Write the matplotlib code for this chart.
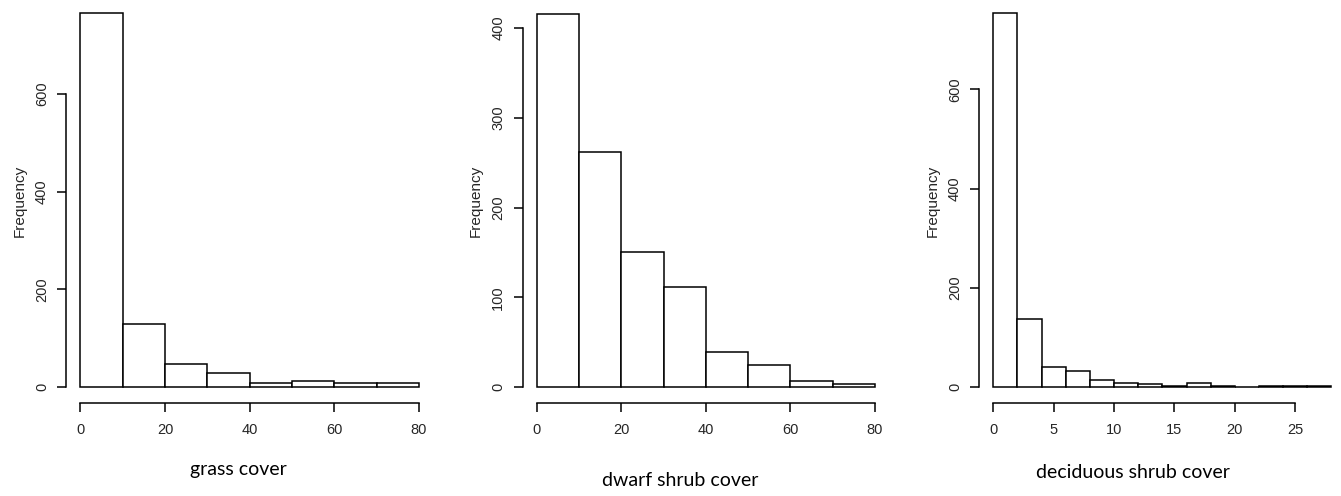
import numpy as np
import matplotlib
matplotlib.use("Agg")
import matplotlib.pyplot as plt

# bin edges and counts
grass_edges = [0, 10, 20, 30, 40, 50, 60, 70, 80]
grass_counts = [765, 130, 47, 29, 8, 12, 8, 8]

dwarf_edges = [0, 10, 20, 30, 40, 50, 60, 70, 80]
dwarf_counts = [416, 262, 150, 111, 39, 24, 7, 3]

decid_edges = [0, 2, 4, 6, 8, 10, 12, 14, 16, 18, 20, 22, 24, 26, 28]
decid_counts = [753, 137, 41, 32, 14, 9, 6, 2, 9, 2, 0, 2, 1, 1]

grass_xticks = [0, 20, 40, 60, 80]
dwarf_xticks = [0, 20, 40, 60, 80]
decid_xticks = [0, 5, 10, 15, 20, 25]
grass_yticks = [0, 200, 400, 600]
dwarf_yticks = [0, 100, 200, 300, 400]
decid_yticks = [0, 200, 400, 600]

W, H = 1341, 496
TXT = "#262626"

fig = plt.figure(figsize=(W / 100, H / 100), dpi=100)
fig.patch.set_facecolor("white")


def panel(left_px, right_px, xlim, ylim, edges, counts, xticks, yticks, label, label_xy):
    bottom_px = 402.7
    ax = fig.add_axes([left_px / W, 1 - bottom_px / H,
                       (right_px - left_px) / W, bottom_px / H])
    ax.set_xlim(*xlim)
    ax.set_ylim(*ylim)
    widths = np.diff(edges)
    ax.bar(edges[:-1], counts, width=widths, align="edge",
           facecolor="white", edgecolor="black", linewidth=1.1, clip_on=False)
    for s in ["top", "right"]:
        ax.spines[s].set_visible(False)
    for s in ["left", "bottom"]:
        ax.spines[s].set_linewidth(1.1)
    ax.spines["bottom"].set_bounds(xticks[0], xticks[-1])
    ax.spines["left"].set_bounds(yticks[0], yticks[-1])
    ax.set_xticks(xticks)
    ax.set_yticks(yticks)
    ax.set_yticklabels([str(v) for v in yticks], rotation=90, va="center")
    ax.tick_params(axis="both", direction="out", length=6.5, width=1.1,
                   labelsize=10.5, labelcolor=TXT)
    ax.tick_params(axis="x", pad=8)
    ax.tick_params(axis="y", pad=6)
    for t in ax.get_xticklabels() + ax.get_yticklabels():
        t.set_fontfamily("Liberation Sans")
    ax.set_ylabel("Frequency", fontsize=11, color=TXT,
                  fontfamily="Liberation Sans", labelpad=6)
    fig.text(label_xy[0] / W, 1 - label_xy[1] / H, label, ha="center",
             va="center", fontsize=14, fontfamily="Lato", color="black")
    return ax


panel(66.4, 432.6, (-3.3, 83.2), (-32, 792), grass_edges, grass_counts,
      grass_xticks, grass_yticks, "grass cover", (238, 470))
panel(522.7, 889, (-3.3, 83.3), (-17.5, 431.4), dwarf_edges, dwarf_counts,
      dwarf_xticks, dwarf_yticks, "dwarf shrub cover", (680, 481))
panel(979.3, 1345, (-1.16, 29.12), (-31.7, 780), decid_edges, decid_counts,
      decid_xticks, decid_yticks, "deciduous shrub cover", (1133, 473))

fig.savefig("out.png", dpi=100, facecolor="white")
